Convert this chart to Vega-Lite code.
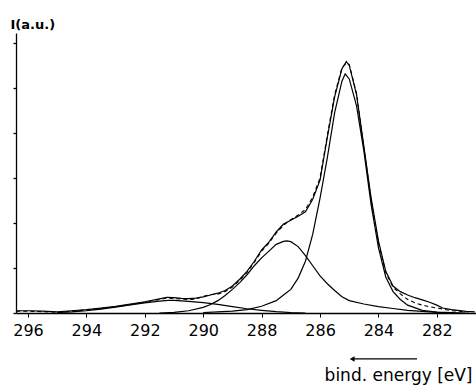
{
  "$schema": "https://vega.github.io/schema/vega-lite/v6.json",
  "width": 460,
  "height": 280,
  "autosize": {"type": "none"},
  "padding": {"left": 16, "top": 33, "right": 0, "bottom": 72},
  "background": "white",
  "config": {"view": {"stroke": null}},
  "datasets": {
    "curves": [
      {"series": "main", "E": 281.0, "I": 0.0}, {"series": "main", "E": 281.5, "I": 0.02}, {"series": "main", "E": 282.0, "I": 0.04}, {"series": "main", "E": 282.5, "I": 0.12}, {"series": "main", "E": 283.0, "I": 0.35}, {"series": "main", "E": 283.25, "I": 0.6}, {"series": "main", "E": 283.5, "I": 0.95}, {"series": "main", "E": 283.75, "I": 1.6}, {"series": "main", "E": 284.0, "I": 2.9}, {"series": "main", "E": 284.25, "I": 4.8}, {"series": "main", "E": 284.5, "I": 7.2}, {"series": "main", "E": 284.75, "I": 9.2}, {"series": "main", "E": 285.0, "I": 10.4}, {"series": "main", "E": 285.14, "I": 10.62}, {"series": "main", "E": 285.25, "I": 10.3}, {"series": "main", "E": 285.5, "I": 8.9}, {"series": "main", "E": 285.75, "I": 6.9}, {"series": "main", "E": 286.0, "I": 5.1}, {"series": "main", "E": 286.25, "I": 3.5}, {"series": "main", "E": 286.5, "I": 2.3}, {"series": "main", "E": 286.75, "I": 1.55}, {"series": "main", "E": 287.0, "I": 1.05}, {"series": "main", "E": 287.25, "I": 0.8}, {"series": "main", "E": 287.5, "I": 0.55}, {"series": "main", "E": 288.0, "I": 0.3}, {"series": "main", "E": 288.5, "I": 0.15}, {"series": "main", "E": 289.0, "I": 0.08}, {"series": "main", "E": 290.0, "I": 0.02},
      {"series": "second", "E": 281.5, "I": 0.0}, {"series": "second", "E": 282.0, "I": 0.03}, {"series": "second", "E": 282.5, "I": 0.07}, {"series": "second", "E": 283.0, "I": 0.12}, {"series": "second", "E": 283.5, "I": 0.2}, {"series": "second", "E": 284.0, "I": 0.28}, {"series": "second", "E": 284.5, "I": 0.4}, {"series": "second", "E": 285.0, "I": 0.55}, {"series": "second", "E": 285.25, "I": 0.72}, {"series": "second", "E": 285.5, "I": 1.0}, {"series": "second", "E": 285.75, "I": 1.3}, {"series": "second", "E": 286.0, "I": 1.65}, {"series": "second", "E": 286.25, "I": 2.1}, {"series": "second", "E": 286.5, "I": 2.55}, {"series": "second", "E": 286.75, "I": 2.95}, {"series": "second", "E": 287.0, "I": 3.17}, {"series": "second", "E": 287.14, "I": 3.2}, {"series": "second", "E": 287.25, "I": 3.18}, {"series": "second", "E": 287.5, "I": 3.05}, {"series": "second", "E": 287.75, "I": 2.75}, {"series": "second", "E": 288.0, "I": 2.45}, {"series": "second", "E": 288.25, "I": 2.1}, {"series": "second", "E": 288.5, "I": 1.7}, {"series": "second", "E": 288.75, "I": 1.35}, {"series": "second", "E": 289.0, "I": 1.05}, {"series": "second", "E": 289.25, "I": 0.78}, {"series": "second", "E": 289.5, "I": 0.55}, {"series": "second", "E": 289.75, "I": 0.38}, {"series": "second", "E": 290.0, "I": 0.25}, {"series": "second", "E": 290.5, "I": 0.1}, {"series": "second", "E": 291.0, "I": 0.03}, {"series": "second", "E": 291.5, "I": 0.0},
      {"series": "small", "E": 286.5, "I": 0.0}, {"series": "small", "E": 287.0, "I": 0.02}, {"series": "small", "E": 287.5, "I": 0.06}, {"series": "small", "E": 288.0, "I": 0.12}, {"series": "small", "E": 288.5, "I": 0.19}, {"series": "small", "E": 289.0, "I": 0.28}, {"series": "small", "E": 289.5, "I": 0.38}, {"series": "small", "E": 290.0, "I": 0.46}, {"series": "small", "E": 290.5, "I": 0.52}, {"series": "small", "E": 291.0, "I": 0.56}, {"series": "small", "E": 291.2, "I": 0.56}, {"series": "small", "E": 291.5, "I": 0.53}, {"series": "small", "E": 292.0, "I": 0.45}, {"series": "small", "E": 292.5, "I": 0.36}, {"series": "small", "E": 293.0, "I": 0.26}, {"series": "small", "E": 293.5, "I": 0.17}, {"series": "small", "E": 294.0, "I": 0.1}, {"series": "small", "E": 294.5, "I": 0.05}, {"series": "small", "E": 295.0, "I": 0.02},
      {"series": "fit", "E": 280.7, "I": 0.05}, {"series": "fit", "E": 281.0, "I": 0.07}, {"series": "fit", "E": 281.5, "I": 0.15}, {"series": "fit", "E": 281.8, "I": 0.22}, {"series": "fit", "E": 282.0, "I": 0.35}, {"series": "fit", "E": 282.25, "I": 0.48}, {"series": "fit", "E": 282.5, "I": 0.58}, {"series": "fit", "E": 282.75, "I": 0.68}, {"series": "fit", "E": 283.0, "I": 0.8}, {"series": "fit", "E": 283.25, "I": 0.95}, {"series": "fit", "E": 283.5, "I": 1.2}, {"series": "fit", "E": 283.75, "I": 1.85}, {"series": "fit", "E": 284.0, "I": 3.2}, {"series": "fit", "E": 284.25, "I": 5.1}, {"series": "fit", "E": 284.5, "I": 7.4}, {"series": "fit", "E": 284.75, "I": 9.7}, {"series": "fit", "E": 285.0, "I": 11.0}, {"series": "fit", "E": 285.1, "I": 11.17}, {"series": "fit", "E": 285.25, "I": 10.85}, {"series": "fit", "E": 285.5, "I": 9.6}, {"series": "fit", "E": 285.75, "I": 7.8}, {"series": "fit", "E": 286.0, "I": 5.9}, {"series": "fit", "E": 286.25, "I": 5.05}, {"series": "fit", "E": 286.5, "I": 4.5}, {"series": "fit", "E": 286.75, "I": 4.3}, {"series": "fit", "E": 287.0, "I": 4.12}, {"series": "fit", "E": 287.25, "I": 3.95}, {"series": "fit", "E": 287.5, "I": 3.6}, {"series": "fit", "E": 287.75, "I": 3.15}, {"series": "fit", "E": 288.0, "I": 2.8}, {"series": "fit", "E": 288.25, "I": 2.3}, {"series": "fit", "E": 288.5, "I": 1.85}, {"series": "fit", "E": 288.75, "I": 1.5}, {"series": "fit", "E": 289.0, "I": 1.2}, {"series": "fit", "E": 289.25, "I": 1.0}, {"series": "fit", "E": 289.5, "I": 0.88}, {"series": "fit", "E": 289.75, "I": 0.8}, {"series": "fit", "E": 290.0, "I": 0.72}, {"series": "fit", "E": 290.25, "I": 0.66}, {"series": "fit", "E": 290.5, "I": 0.64}, {"series": "fit", "E": 290.75, "I": 0.65}, {"series": "fit", "E": 291.0, "I": 0.68}, {"series": "fit", "E": 291.25, "I": 0.7}, {"series": "fit", "E": 291.5, "I": 0.63}, {"series": "fit", "E": 292.0, "I": 0.5}, {"series": "fit", "E": 292.5, "I": 0.4}, {"series": "fit", "E": 293.0, "I": 0.3}, {"series": "fit", "E": 293.5, "I": 0.22}, {"series": "fit", "E": 294.0, "I": 0.15}, {"series": "fit", "E": 294.5, "I": 0.1}, {"series": "fit", "E": 295.0, "I": 0.05}, {"series": "fit", "E": 295.5, "I": 0.08}, {"series": "fit", "E": 296.0, "I": 0.1}, {"series": "fit", "E": 296.4, "I": 0.1}
    ],
    "measured": [
      {"E": 280.9, "I": 0.05}, {"E": 281.5, "I": 0.1}, {"E": 281.8, "I": 0.18}, {"E": 282.0, "I": 0.22}, {"E": 282.25, "I": 0.28}, {"E": 282.5, "I": 0.35}, {"E": 282.75, "I": 0.45}, {"E": 283.0, "I": 0.6}, {"E": 283.25, "I": 0.85}, {"E": 283.5, "I": 1.15}, {"E": 283.75, "I": 1.8}, {"E": 284.0, "I": 3.1}, {"E": 284.25, "I": 5.0}, {"E": 284.5, "I": 7.35}, {"E": 284.75, "I": 9.75}, {"E": 285.0, "I": 11.05}, {"E": 285.1, "I": 11.1}, {"E": 285.25, "I": 10.9}, {"E": 285.5, "I": 9.7}, {"E": 285.75, "I": 7.9}, {"E": 286.0, "I": 6.0}, {"E": 286.25, "I": 5.15}, {"E": 286.5, "I": 4.6}, {"E": 286.75, "I": 4.35}, {"E": 287.0, "I": 4.15}, {"E": 287.25, "I": 3.9}, {"E": 287.5, "I": 3.55}, {"E": 287.75, "I": 3.1}, {"E": 288.0, "I": 2.75}, {"E": 288.25, "I": 2.25}, {"E": 288.5, "I": 1.8}, {"E": 288.75, "I": 1.45}, {"E": 289.0, "I": 1.15}, {"E": 289.25, "I": 0.95}, {"E": 289.5, "I": 0.83}, {"E": 289.75, "I": 0.82}, {"E": 290.0, "I": 0.74}, {"E": 290.25, "I": 0.62}, {"E": 290.5, "I": 0.6}, {"E": 290.75, "I": 0.62}, {"E": 291.0, "I": 0.64}, {"E": 291.25, "I": 0.66}, {"E": 291.5, "I": 0.6}, {"E": 292.0, "I": 0.48}, {"E": 292.5, "I": 0.37}, {"E": 293.0, "I": 0.28}, {"E": 293.5, "I": 0.2}, {"E": 294.0, "I": 0.13}, {"E": 294.5, "I": 0.08}, {"E": 295.0, "I": 0.03}, {"E": 295.5, "I": 0.06}, {"E": 296.0, "I": 0.08}, {"E": 296.4, "I": 0.08}
    ],
    "arrow": [{"E": 284.9, "E2": 282.68, "I": -2.04}]
  },
  "layer": [
    {
      "data": {"name": "curves"},
      "mark": {"type": "line", "color": "black", "strokeWidth": 1.2, "clip": true},
      "encoding": {
        "x": {
          "field": "E", "type": "quantitative",
          "scale": {"domain": [280.66, 296.41], "reverse": true, "nice": false, "zero": false},
          "axis": {
            "values": [282, 284, 286, 288, 290, 292, 294, 296],
            "grid": false, "tickSize": 4, "tickColor": "black", "domainColor": "black", "domainWidth": 1.3,
            "labelFont": "DejaVu Sans", "labelFontSize": 16, "labelColor": "black", "labelPadding": 5,
            "title": "bind. energy [eV]", "titleFont": "DejaVu Sans", "titleFontSize": 17, "titleFontWeight": "normal",
            "titleColor": "black", "titleX": 456, "titleY": 67, "titleAlign": "right", "titleBaseline": "alphabetic", "titleAnchor": null
          }
        },
        "y": {
          "field": "I", "type": "quantitative",
          "scale": {"domain": [0, 12.44], "nice": false, "zero": false},
          "axis": {
            "values": [0, 1, 2, 3, 4, 5, 6, 7, 8, 9, 10, 11, 12],
            "grid": false, "labels": false, "tickSize": 3, "tickWidth": 1.3, "tickColor": "black", "domainColor": "black", "domainWidth": 1.3,
            "title": "I(a.u.)", "titleFont": "DejaVu Sans", "titleFontSize": 13, "titleFontWeight": "bold", "titleColor": "black",
            "titleAngle": 0, "titleX": -6, "titleY": -5, "titleAlign": "left", "titleBaseline": "alphabetic"
          }
        },
        "detail": {"field": "series"}
      }
    },
    {
      "data": {"name": "measured"},
      "mark": {"type": "line", "color": "black", "strokeWidth": 1.1, "strokeDash": [4, 3], "clip": true},
      "encoding": {
        "x": {"field": "E", "type": "quantitative"},
        "y": {"field": "I", "type": "quantitative"}
      }
    },
    {
      "data": {"name": "arrow"},
      "mark": {"type": "rule", "color": "black", "strokeWidth": 1.2},
      "encoding": {
        "x": {"field": "E", "type": "quantitative"},
        "x2": {"field": "E2"},
        "y": {"field": "I", "type": "quantitative"}
      }
    },
    {
      "data": {"name": "arrow"},
      "mark": {"type": "point", "shape": "triangle-left", "filled": true, "color": "black", "size": 30, "opacity": 1},
      "encoding": {
        "x": {"field": "E", "type": "quantitative"},
        "y": {"field": "I", "type": "quantitative"}
      }
    }
  ]
}
